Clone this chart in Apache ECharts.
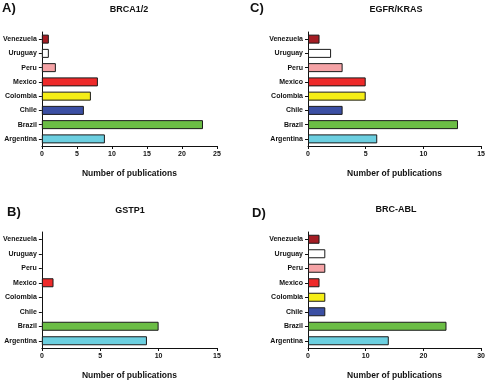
<!DOCTYPE html>
<html>
<head>
<meta charset="utf-8">
<script src="https://cdn.jsdelivr.net/npm/echarts@6/dist/echarts.min.js"></script>
<style>
html,body{margin:0;padding:0;background:#fff;}
#chart{width:488px;height:381px;}
</style>
</head>
<body>
<div id="chart"></div>
<script>
const countries = ['Argentina','Brazil','Chile','Colombia','Mexico','Peru','Uruguay','Venezuela'];
const brca = [9, 23, 6, 7, 8, 2, 1, 1];
const egfr = [6, 13, 3, 5, 5, 3, 2, 1];
const gstp1 = [9, 10, 0, 0, 1, 0, 0, 0];
const bcrabl = [14, 24, 3, 3, 2, 3, 3, 2];
const panelTitles = ['BRCA1/2', 'EGFR/KRAS', 'GSTP1', 'BRC-ABL'];
const panelLetters = ['A)', 'C)', 'B)', 'D)'];
const axisMax = [25, 15, 15, 30];
const axisStep = [5, 5, 5, 10];
const xAxisName = 'Number of publications';

const countryColors = ['#6ccfe0','#6bbd45','#3b4fa3','#f5ee17','#ee2a2a','#f5a3a6','#ffffff','#a51d24'];
const FONT = '"Liberation Sans", Arial, sans-serif';

const panels = [brca, egfr, gstp1, bcrabl];
const grids = [
  {left: 41, top: 32, width: 176, height: 114},
  {left: 308, top: 32, width: 176, height: 114},
  {left: 41, top: 232, width: 176, height: 116},
  {left: 308, top: 232, width: 176, height: 116}
];
const titlePos = [[129, 9.5], [396, 10], [130, 211], [396, 210]];
const letterPos = [[2, 2], [250, 2], [7, 206], [252, 207]];

const chart = echarts.init(document.getElementById('chart'), null, {renderer: 'canvas'});

const graphics = [];
panelTitles.forEach((t, i) => {
  graphics.push({
    type: 'text', x: titlePos[i][0], y: titlePos[i][1],
    style: {text: t, font: 'bold 9px ' + FONT, fill: '#111', textAlign: 'center', textVerticalAlign: 'middle'}
  });
});
panelLetters.forEach((t, i) => {
  graphics.push({
    type: 'text', x: letterPos[i][0], y: letterPos[i][1],
    style: {text: t, font: 'bold 13px ' + FONT, fill: '#111'}
  });
});

const option = {
  backgroundColor: '#fff',
  animation: false,
  graphic: graphics,
  grid: grids,
  xAxis: grids.map((g, i) => ({
    type: 'value',
    gridIndex: i,
    min: 0,
    max: axisMax[i],
    interval: axisStep[i],
    name: xAxisName,
    nameLocation: 'middle',
    nameGap: 23,
    nameTextStyle: {fontFamily: FONT, fontWeight: 'bold', fontSize: 8.5, color: '#111'},
    axisLine: {show: true, lineStyle: {color: '#111', width: 1}},
    axisTick: {show: true, length: 3, lineStyle: {color: '#111'}},
    splitLine: {show: false},
    axisLabel: {fontFamily: FONT, fontWeight: 'bold', fontSize: 7, color: '#111', margin: 5}
  })),
  yAxis: grids.map((g, i) => ({
    type: 'category',
    gridIndex: i,
    data: countries,
    axisLine: {show: true, lineStyle: {color: '#111', width: 1}},
    axisTick: {show: true, length: 3, alignWithLabel: true, lineStyle: {color: '#111'}},
    axisLabel: {fontFamily: FONT, fontWeight: 'bold', fontSize: 7, color: '#111', margin: 5}
  })),
  series: panels.map((vals, i) => ({
    type: 'bar',
    xAxisIndex: i,
    yAxisIndex: i,
    barWidth: 9,
    data: vals.map((v, j) => ({
      value: v,
      itemStyle: {
        color: countryColors[j],
        borderColor: '#1a1a1a',
        borderWidth: v === 0 ? 0 : 1
      }
    }))
  }))
};
chart.setOption(option);
</script>
</body>
</html>
